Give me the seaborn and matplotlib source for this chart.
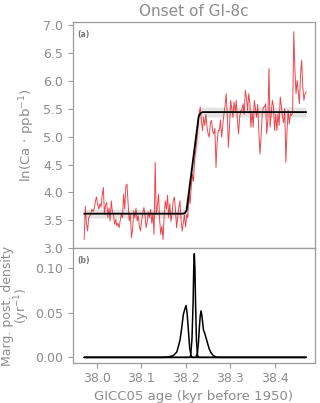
import numpy as np
import pandas as pd
import matplotlib
matplotlib.use("Agg")
import matplotlib.pyplot as plt
import seaborn as sns

# ---------------- data ----------------
age_start = 37.9718
age_step = 0.002532
ca_log = [
    3.16, 3.75, 3.45, 3.31, 3.55, 3.58, 3.62, 3.70, 3.66, 3.72,
    3.85, 3.92, 3.78, 3.70, 3.80, 3.74, 3.95, 4.09, 3.61, 3.78,
    3.82, 3.55, 3.72, 3.49, 3.85, 3.66, 3.60, 3.43, 3.52, 3.40,
    3.45, 3.37, 3.50, 3.61, 3.55, 3.97, 3.70, 4.12, 4.15, 3.80,
    3.49, 3.60, 3.19, 3.35, 3.67, 3.55, 3.72, 3.49, 3.58, 3.40,
    3.31, 3.50, 3.62, 3.73, 3.58, 3.37, 3.48, 3.65, 3.55, 3.70,
    3.45, 3.62, 3.25, 4.54, 3.61, 3.75, 3.97, 3.50, 3.25, 3.40,
    3.16, 3.60, 3.85, 3.70, 3.95, 3.55, 3.80, 3.48, 3.62, 3.85,
    3.92, 3.70, 3.37, 3.55, 3.73, 3.85, 3.50, 3.31, 3.45, 3.60,
    3.38, 3.61, 3.55, 3.97, 3.80, 4.10, 4.33, 4.20, 4.60, 4.75,
    4.95, 5.17, 5.41, 5.53, 5.30, 5.11, 5.35, 5.20, 5.40, 5.17,
    5.05, 4.99, 5.25, 5.29, 5.10, 5.05, 5.15, 4.45, 4.90, 5.11,
    5.11, 5.30, 4.99, 5.20, 5.41, 5.55, 5.77, 5.40, 4.81, 5.20,
    5.65, 5.50, 5.35, 5.62, 5.45, 5.65, 5.30, 5.05, 5.35, 5.47,
    5.47, 5.59, 5.40, 5.83, 5.70, 5.47, 5.77, 5.60, 5.17, 5.45,
    5.17, 5.65, 5.50, 5.35, 5.58, 5.10, 4.69, 5.00, 5.40, 5.53,
    5.53, 5.59, 5.05, 5.30, 6.22, 5.17, 5.40, 5.65, 5.55, 5.11,
    5.40, 5.11, 5.41, 5.20, 5.71, 5.55, 5.35, 5.25, 5.50, 4.54,
    5.10, 5.47, 5.23, 5.41, 5.38, 5.45, 6.88, 6.20, 5.77, 6.01,
    5.80, 5.59, 6.10, 6.37, 5.90, 5.65, 5.77, 5.80,
]

fit_age = [37.9718, 38.194, 38.198, 38.202, 38.229, 38.233, 38.238, 38.4706]
fit_val = [3.62, 3.62, 3.63, 3.68, 5.36, 5.42, 5.44, 5.44]
band_lo = [3.54, 3.54, 3.54, 3.55, 4.95, 5.30, 5.35, 5.35]
band_hi = [3.70, 3.70, 3.76, 3.95, 5.50, 5.52, 5.53, 5.53]

dens_a_age = [37.9718, 38.150, 38.160, 38.172, 38.180, 38.187, 38.191, 38.1946,
              38.198, 38.2007, 38.203, 38.206, 38.209, 38.212, 38.215, 38.4706]
dens_a_val = [0.0, 0.0, 0.0005, 0.002, 0.006, 0.019, 0.033, 0.048,
              0.054, 0.058, 0.050, 0.030, 0.010, 0.002, 0.0, 0.0]
dens_b_age = [37.9718, 38.2085, 38.2109, 38.2140, 38.2165, 38.2180, 38.2193, 38.2206,
              38.2221, 38.2240, 38.2265, 38.2290, 38.4706]
dens_b_val = [0.0, 0.0, 0.002, 0.020, 0.060, 0.100, 0.116, 0.100,
              0.060, 0.020, 0.002, 0.0, 0.0]
dens_c_age = [37.9718, 38.2225, 38.2260, 38.2285, 38.2306, 38.2325, 38.2344, 38.2365,
              38.2397, 38.2425, 38.2456, 38.2495, 38.2531, 38.2570, 38.2620, 38.2700, 38.4706]
dens_c_val = [0.0, 0.0, 0.004, 0.016, 0.033, 0.046, 0.052, 0.046,
              0.031, 0.027, 0.022, 0.015, 0.009, 0.005, 0.002, 0.0, 0.0]

x_ticks = [38.0, 38.1, 38.2, 38.3, 38.4]
y_ticks_a = [3.0, 3.5, 4.0, 4.5, 5.0, 5.5, 6.0, 6.5, 7.0]
y_ticks_b = [0.00, 0.05, 0.10]

# ---------------- style ----------------
sns.set_style("ticks")
plt.rcParams['font.family'] = ['DejaVu Sans']
GRAY = "#8c8c8c"
SPINE = "#9a9a9a"

fig = plt.figure(figsize=(3.2, 4.03), dpi=100)
ax1 = fig.add_axes([0.2266, 0.3839, 0.7588, 0.5623])
ax2 = fig.add_axes([0.2266, 0.0999, 0.7588, 0.2840], sharex=ax1)

ages = age_start + age_step * np.arange(len(ca_log))
df = pd.DataFrame({"age": ages, "ca": ca_log})
fit_df = pd.DataFrame({"age": fit_age, "val": fit_val})

ax1.fill_between(fit_age, band_lo, band_hi, color="#e4e4e4", lw=0, zorder=1)
sns.lineplot(data=df, x="age", y="ca", ax=ax1, color="#e8262f", lw=0.7,
             alpha=0.85, estimator=None, sort=False, zorder=2)
sns.lineplot(data=fit_df, x="age", y="val", ax=ax1, color="black", lw=1.3,
             estimator=None, sort=False, zorder=3)

for a, v in [(dens_a_age, dens_a_val), (dens_b_age, dens_b_val), (dens_c_age, dens_c_val)]:
    d = pd.DataFrame({"age": a, "val": v})
    sns.lineplot(data=d, x="age", y="val", ax=ax2, color="black", lw=1.1,
                 estimator=None, sort=False)

ax1.set_xlim(37.9456, 38.4912)
ax1.set_ylim(3.0, 7.06)
ax2.set_ylim(-0.006, 0.122)
ax1.set_yticks(y_ticks_a)
ax1.set_yticklabels([f"{t:.1f}" for t in y_ticks_a])
ax2.set_yticks(y_ticks_b)
ax2.set_yticklabels([f"{t:.2f}" for t in y_ticks_b])
ax2.set_xticks(x_ticks)
ax2.set_xticklabels([f"{t:.1f}" for t in x_ticks])
ax1.tick_params(axis="x", which="both", bottom=False, labelbottom=False)

for ax in (ax1, ax2):
    for s in ax.spines.values():
        s.set_visible(True)
        s.set_color(SPINE)
        s.set_linewidth(0.9)
    ax.tick_params(colors=SPINE, labelcolor=GRAY, labelsize=9, length=3.5, width=0.8)
    ax.set_xlabel("")
    ax.set_ylabel("")

ax1.set_title("Onset of GI-8c", color=GRAY, fontsize=11, pad=4)
ax1.set_ylabel(r"ln(Ca$\,\cdot\,$ppb$^{-1}$)", color=GRAY, fontsize=9.5)
ax1.yaxis.set_label_coords(-0.146, 0.5)
ax2.set_ylabel("Marg. post. density\n(yr$^{-1}$)", color=GRAY, fontsize=9.0,
               linespacing=0.95)
ax2.yaxis.set_label_coords(-0.165, 0.5)
ax2.set_xlabel("GICC05 age (kyr before 1950)", color=GRAY, fontsize=9.5, labelpad=3)

ax1.text(0.018, 0.965, "(a)", transform=ax1.transAxes, fontsize=5.5,
         fontweight="bold", color="#777777", va="top", ha="left")
ax2.text(0.018, 0.93, "(b)", transform=ax2.transAxes, fontsize=5.5,
         fontweight="bold", color="#777777", va="top", ha="left")

fig.savefig("out.png", dpi=100)
